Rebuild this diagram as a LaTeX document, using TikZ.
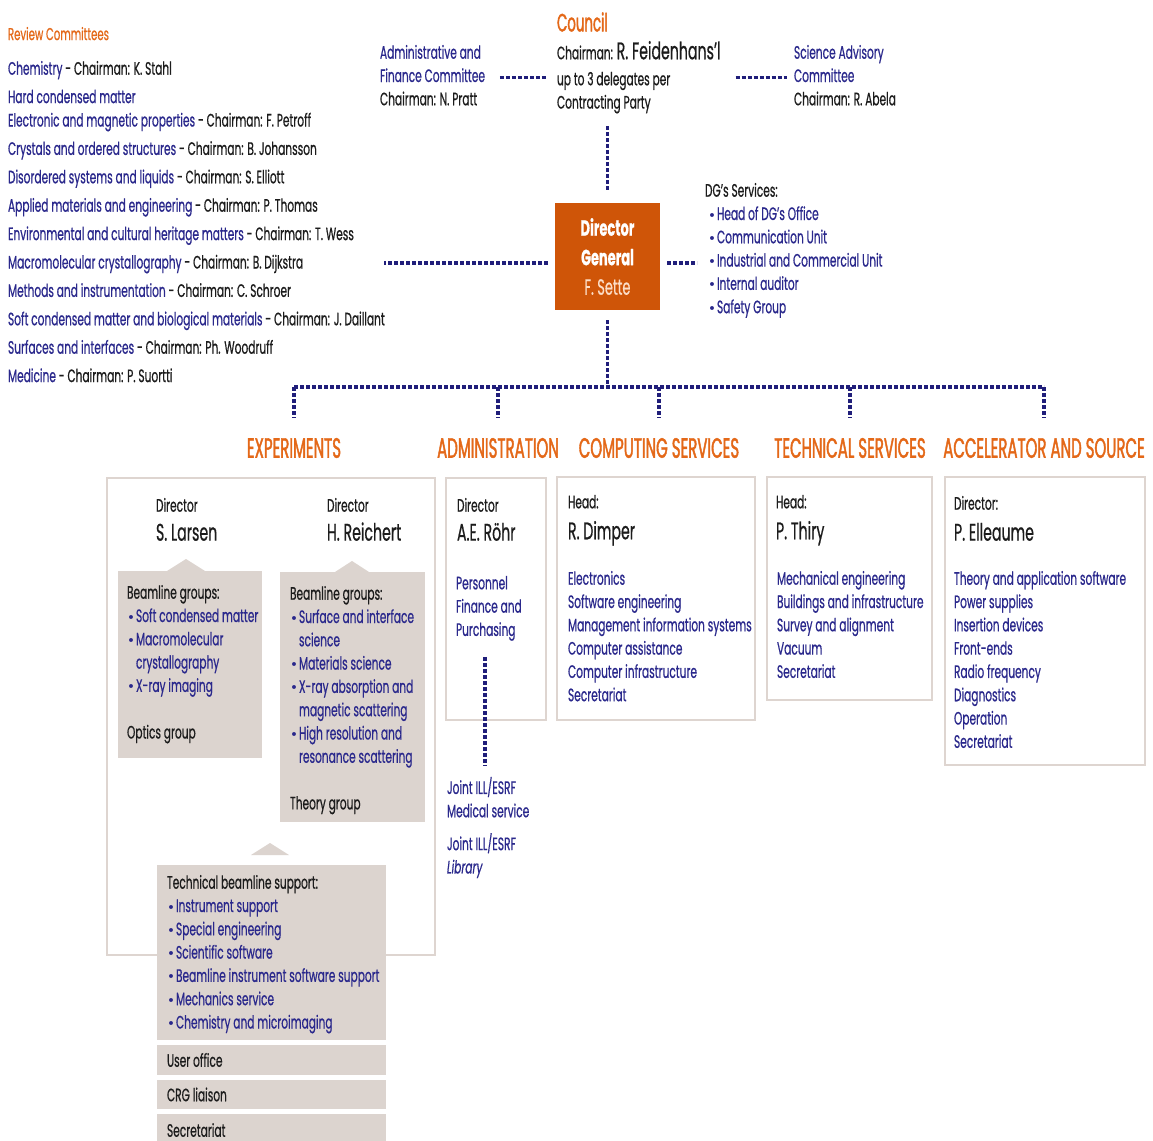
\documentclass[tikz,border=0pt]{standalone}
\usepackage{fontspec}
\setmainfont{Poppins}[FakeStretch=0.59,FakeBold=0.6]
\newfontfamily\divisionfont{Poppins}[FakeStretch=0.535,FakeBold=1.4]
\newfontfamily\bulletfont{DejaVu Sans}
\usetikzlibrary{positioning}

\definecolor{esrfblue}{RGB}{42,40,140}
\definecolor{esrforange}{RGB}{228,104,24}
\definecolor{dgorange}{RGB}{207,85,8}
\definecolor{dgpeach}{RGB}{252,222,200}
\definecolor{linkblue}{RGB}{32,30,122}
\definecolor{panelgray}{RGB}{220,212,207}
\definecolor{framegray}{RGB}{222,213,208}
\definecolor{inkblack}{RGB}{28,28,28}

\newcommand{\unitname}[1]{\textcolor{esrfblue}{#1}}
\newcommand{\itembullet}{\makebox[4.5pt][l]{\scalebox{0.75}{\bulletfont\textbullet}}}
\newcommand{\bulletgap}{\hspace*{4.5pt}}

\begin{document}
\begin{tikzpicture}
  [x=0.5pt,y=-0.5pt,
   every node/.style={inner sep=0pt,outer sep=0pt,text=inkblack},
   body/.style={anchor=north west,align=left,font=\fontsize{9}{11.65}\selectfont},
   person/.style={anchor=north west,text height=8.4pt,text depth=2.6pt,
                  font=\fontsize{12}{13}\selectfont},
   division/.style={text=esrforange,font=\divisionfont\fontsize{14}{15}\selectfont},
   frame/.style={draw=framegray,line width=1.1pt,anchor=north west},
   panel/.style={fill=panelgray,anchor=north west},
   tab/.style={panel,minimum width=114.5pt,inner xsep=5pt,
               font=\fontsize{9}{11.65}\selectfont},
   link/.style={draw=linkblue,line width=1.6pt,dash pattern=on 2pt off 1pt}]

  \fill[white] (0,0) rectangle (1153,1141);
  \useasboundingbox (0,0) rectangle (1153,1141);

  \node[body,text=esrforange,font=\fontsize{8.6}{11.65}\selectfont]
    (review title) at (8,27) {Review Committees};
  \node[body,font=\fontsize{9}{14.2}\selectfont] (committee list) at (8,61)
    {\unitname{Chemistry} - Chairman: K. Stahl\\
     \unitname{Hard condensed matter}\\[-2.5pt]
     \unitname{Electronic and magnetic properties} - Chairman: F. Petroff\\
     \unitname{Crystals and ordered structures} - Chairman: B. Johansson\\
     \unitname{Disordered systems and liquids} - Chairman: S. Elliott\\
     \unitname{Applied materials and engineering} - Chairman: P. Thomas\\
     \unitname{Environmental and cultural heritage matters} - Chairman: T. Wess\\
     \unitname{Macromolecular crystallography} - Chairman: B. Dijkstra\\
     \unitname{Methods and instrumentation} - Chairman: C. Schroer\\
     \unitname{Soft condensed matter and biological materials} - Chairman: J. Daillant\\
     \unitname{Surfaces and interfaces} - Chairman: Ph. Woodruff\\
     \unitname{Medicine} - Chairman: P. Suortti};

  \node[body] (finance committee) at (380,45)
    {\unitname{Administrative and}\\\unitname{Finance Committee}\\Chairman: N. Pratt};
  \node[division,anchor=west,font=\divisionfont\fontsize{12.5}{14}\selectfont]
    (council) at (557,22) {Council};
  \node[body] (council info) at (557,41)
    {Chairman: {\fontsize{12}{11.65}\selectfont R. Feidenhans'l}\\[1.35pt]
     up to 3 delegates per\\Contracting Party};
  \node[body] (science committee) at (794,45)
    {\unitname{Science Advisory}\\\unitname{Committee}\\Chairman: R. Abela};

  \node[fill=dgorange,minimum width=52.5pt,minimum height=53.5pt,align=center,
        text=white,font=\fontsize{11}{14.75}\selectfont]
    (director general) at (607.5,256.5)
    {\textbf{Director}\\\textbf{General}\\\textcolor{dgpeach}{F. Sette}};
  \node[body] (dg services) at (705,183)
    {DG's Services:\\
     \unitname{\hspace*{1.5pt}\itembullet Head of DG's Office}\\
     \unitname{\hspace*{1.5pt}\itembullet Communication Unit}\\
     \unitname{\hspace*{1.5pt}\itembullet Industrial and Commercial Unit}\\
     \unitname{\hspace*{1.5pt}\itembullet Internal auditor}\\
     \unitname{\hspace*{1.5pt}\itembullet Safety Group}};
  \coordinate (committee link) at (384,263);
  \coordinate (bus) at (608,387);

  \node[division] (experiments title)    at (294,448)  {EXPERIMENTS};
  \node[division] (administration title) at (498,448)  {ADMINISTRATION};
  \node[division] (computing title)      at (659,448)  {COMPUTING SERVICES};
  \node[division] (technical title)      at (850,448)  {TECHNICAL SERVICES};
  \node[division] (accelerator title)    at (1044,448) {ACCELERATOR AND SOURCE};

  \node[frame,minimum width=164pt,minimum height=238.5pt] (experiments frame) at (107,478) {};
  \node[frame,minimum width=50pt,minimum height=121pt] (administration frame) at (446,478) {};
  \node[frame,minimum width=99pt,minimum height=121.5pt] (computing frame) at (557,477) {};
  \node[frame,minimum width=82.5pt,minimum height=111.5pt] (technical frame) at (767,477) {};
  \node[frame,minimum width=100pt,minimum height=144pt] (accelerator frame) at (945,477) {};

  \node[body] (larsen role) at (156,498) {Director};
  \node[person,below right=6pt and 0pt of larsen role.south west] (larsen) {S. Larsen};
  \node[body] (reichert role) at (327,498) {Director};
  \node[person,below right=6pt and 0pt of reichert role.south west] (reichert) {H. Reichert};

  \node[panel,minimum width=72pt,minimum height=93.5pt] (larsen groups) at (118,571) {};
  \fill[panelgray] ([xshift=24.5pt]larsen groups.north west)
    -- ++(9.5pt,6pt) -- ++(9.5pt,-6pt) -- cycle;
  \node[body,below right=7pt and 4.5pt of larsen groups.north west] (larsen list)
    {Beamline groups:\\
     \unitname{\itembullet Soft condensed matter}\\
     \unitname{\itembullet Macromolecular}\\
     \unitname{\bulletgap crystallography}\\
     \unitname{\itembullet X-ray imaging}\\[11.65pt]
     Optics group};

  \node[panel,minimum width=72.5pt,minimum height=125pt] (reichert groups) at (280,572) {};
  \fill[panelgray] ([xshift=27.5pt]reichert groups.north west)
    -- ++(8.5pt,5.5pt) -- ++(8.5pt,-5.5pt) -- cycle;
  \node[body,below right=7pt and 5pt of reichert groups.north west] (reichert list)
    {Beamline groups:\\
     \unitname{\itembullet Surface and interface}\\
     \unitname{\bulletgap science}\\
     \unitname{\itembullet Materials science}\\
     \unitname{\itembullet X-ray absorption and}\\
     \unitname{\bulletgap magnetic scattering}\\
     \unitname{\itembullet High resolution and}\\
     \unitname{\bulletgap resonance scattering}\\[11.65pt]
     Theory group};

  \node[panel,minimum width=114.5pt,minimum height=87.5pt] (beamline support) at (157,865) {};
  \fill[panelgray] ([xshift=47pt,yshift=5pt]beamline support.north west)
    -- ++(9.5pt,6pt) -- ++(9.5pt,-6pt) -- cycle;
  \node[body,below right=5pt and 5pt of beamline support.north west] (support list)
    {Technical beamline support:\\
     \unitname{\itembullet Instrument support}\\
     \unitname{\itembullet Special engineering}\\
     \unitname{\itembullet Scientific software}\\
     \unitname{\itembullet Beamline instrument software support}\\
     \unitname{\itembullet Mechanics service}\\
     \unitname{\itembullet Chemistry and microimaging}};
  \node[tab,minimum height=15pt,below right=2.5pt and 0pt of beamline support.south west]
    (user office) {\makebox[104.5pt][l]{User office}};
  \node[tab,minimum height=14.5pt,below right=2.5pt and 0pt of user office.south west]
    (crg liaison) {\makebox[104.5pt][l]{CRG liaison}};
  \node[tab,minimum height=16pt,below right=2.5pt and 0pt of crg liaison.south west]
    (experiments secretariat) {\makebox[104.5pt][l]{Secretariat}};

  \node[body] (rohr role) at (457,498) {Director};
  \node[person,below right=6pt and 0pt of rohr role.south west] (rohr) {A.E. Röhr};
  \node[body] (administration units) at (456,576)
    {\unitname{Personnel}\\\unitname{Finance and}\\\unitname{Purchasing}};
  \node[body] (joint services) at (447,777)
    {\unitname{Joint ILL/ESRF}\\\unitname{Medical service}\\[4.8pt]
     \unitname{Joint ILL/ESRF}\\\unitname{\itshape Library}};

  \node[body] (dimper role) at (568,495) {Head:};
  \node[person,below right=7pt and 0pt of dimper role.south west] (dimper) {R. Dimper};
  \node[body] (computing units) at (568,571)
    {\unitname{Electronics}\\\unitname{Software engineering}\\
     \unitname{Management information systems}\\\unitname{Computer assistance}\\
     \unitname{Computer infrastructure}\\\unitname{Secretariat}};

  \node[body] (thiry role) at (776,495) {Head:};
  \node[person,below right=7pt and 0pt of thiry role.south west] (thiry) {P. Thiry};
  \node[body] (technical units) at (777,571)
    {\unitname{Mechanical engineering}\\\unitname{Buildings and infrastructure}\\
     \unitname{Survey and alignment}\\\unitname{Vacuum}\\\unitname{Secretariat}};

  \node[body] (elleaume role) at (954,496) {Director:};
  \node[person,below right=7pt and 0pt of elleaume role.south west] (elleaume) {P. Elleaume};
  \node[body] (accelerator units) at (954,571)
    {\unitname{Theory and application software}\\\unitname{Power supplies}\\
     \unitname{Insertion devices}\\\unitname{Front-ends}\\\unitname{Radio frequency}\\
     \unitname{Diagnostics}\\\unitname{Operation}\\\unitname{Secretariat}};

  \draw[link,shorten <=7.5pt,shorten >=5pt]
    (council info.west -| finance committee.east) -- (council info.west);
  \draw[link,shorten <=7.5pt,shorten >=3.5pt]
    (council info.east) -- (council info.east -| science committee.west);
  \draw[link,shorten <=6.5pt,shorten >=6.5pt]
    (director general.north |- council info.south) -- (director general.north);
  \draw[link,shorten <=3.5pt] ([yshift=-3.25pt]director general.west) -- (committee link);
  \draw[link,shorten <=3.5pt,shorten >=4pt]
    ([yshift=-3.25pt]director general.east)
    -- ([yshift=-3.25pt]director general.east -| dg services.west);
  \draw[link,shorten <=5pt] (director general.south) -- (director general.south |- bus);
  \draw[link] (experiments title.north |- bus) -- (accelerator title.north |- bus);
  \foreach \division in {experiments title,administration title,computing title,
                         technical title,accelerator title}
    \draw[link,shorten >=10pt] (\division.north |- bus) -- (\division.north);
  \draw[link] ([xshift=14.5pt,yshift=-8pt]administration units.south west)
    -- ([xshift=19pt,yshift=5.5pt]joint services.north west);

\end{tikzpicture}
\end{document}
